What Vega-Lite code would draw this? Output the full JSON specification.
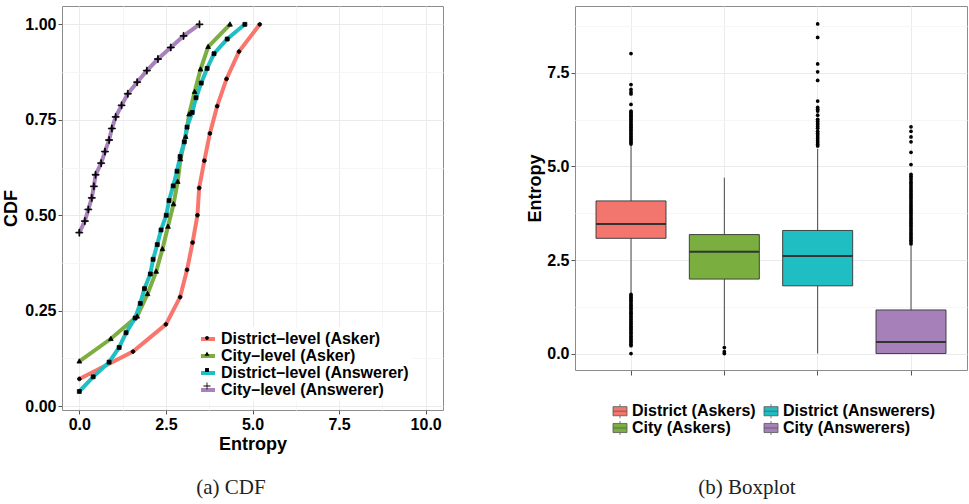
{
  "$schema": "https://vega.github.io/schema/vega-lite/v6.json",
  "padding": {"left": 2, "top": 5, "right": 0, "bottom": 0},
  "background": "white",
  "spacing": 82,
  "resolve": {"scale": {"color": "independent", "shape": "independent"}, "legend": {"color": "independent", "shape": "independent"}},
  "config": {
    "view": {"stroke": "#8c8c8c", "strokeWidth": 1},
    "axis": {
      "domain": false,
      "labelFont": "Liberation Sans",
      "labelFontWeight": "bold",
      "labelFontSize": 16,
      "labelColor": "#000000",
      "tickColor": "#555555",
      "tickSize": 4,
      "labelPadding": 2,
      "titleFont": "Liberation Sans",
      "titleFontWeight": "bold",
      "titleFontSize": 18,
      "titleColor": "#000000",
      "gridColor": "#EBEBEB",
      "gridWidth": 1
    },
    "legend": {
      "labelFont": "Liberation Sans",
      "labelFontWeight": "bold",
      "labelColor": "#000000",
      "labelFontSize": 16,
      "labelLimit": 400
    },
    "title": {
      "font": "Liberation Serif",
      "fontSize": 21,
      "fontWeight": "normal",
      "color": "#222222",
      "orient": "bottom",
      "anchor": "middle",
      "frame": "bounds"
    }
  },
  "datasets": {
    "cdf": [
      {"series": "District–level (Asker)", "entropy": 0.00, "cdf": 0.0714},
      {"series": "District–level (Asker)", "entropy": 1.55, "cdf": 0.1429},
      {"series": "District–level (Asker)", "entropy": 2.50, "cdf": 0.2143},
      {"series": "District–level (Asker)", "entropy": 2.91, "cdf": 0.2857},
      {"series": "District–level (Asker)", "entropy": 3.11, "cdf": 0.3571},
      {"series": "District–level (Asker)", "entropy": 3.27, "cdf": 0.4286},
      {"series": "District–level (Asker)", "entropy": 3.41, "cdf": 0.5000},
      {"series": "District–level (Asker)", "entropy": 3.46, "cdf": 0.5714},
      {"series": "District–level (Asker)", "entropy": 3.61, "cdf": 0.6429},
      {"series": "District–level (Asker)", "entropy": 3.77, "cdf": 0.7143},
      {"series": "District–level (Asker)", "entropy": 3.98, "cdf": 0.7857},
      {"series": "District–level (Asker)", "entropy": 4.25, "cdf": 0.8571},
      {"series": "District–level (Asker)", "entropy": 4.61, "cdf": 0.9286},
      {"series": "District–level (Asker)", "entropy": 5.21, "cdf": 1.0000},

      {"series": "City–level (Asker)", "entropy": 0.00, "cdf": 0.1176},
      {"series": "City–level (Asker)", "entropy": 0.91, "cdf": 0.1765},
      {"series": "City–level (Asker)", "entropy": 1.67, "cdf": 0.2353},
      {"series": "City–level (Asker)", "entropy": 1.97, "cdf": 0.2941},
      {"series": "City–level (Asker)", "entropy": 2.22, "cdf": 0.3529},
      {"series": "City–level (Asker)", "entropy": 2.40, "cdf": 0.4118},
      {"series": "City–level (Asker)", "entropy": 2.56, "cdf": 0.4706},
      {"series": "City–level (Asker)", "entropy": 2.72, "cdf": 0.5294},
      {"series": "City–level (Asker)", "entropy": 2.84, "cdf": 0.5882},
      {"series": "City–level (Asker)", "entropy": 2.92, "cdf": 0.6471},
      {"series": "City–level (Asker)", "entropy": 3.07, "cdf": 0.7059},
      {"series": "City–level (Asker)", "entropy": 3.17, "cdf": 0.7647},
      {"series": "City–level (Asker)", "entropy": 3.33, "cdf": 0.8235},
      {"series": "City–level (Asker)", "entropy": 3.50, "cdf": 0.8824},
      {"series": "City–level (Asker)", "entropy": 3.72, "cdf": 0.9412},
      {"series": "City–level (Asker)", "entropy": 4.35, "cdf": 1.0000},

      {"series": "District–level (Answerer)", "entropy": 0.00, "cdf": 0.0385},
      {"series": "District–level (Answerer)", "entropy": 0.40, "cdf": 0.0769},
      {"series": "District–level (Answerer)", "entropy": 0.86, "cdf": 0.1154},
      {"series": "District–level (Answerer)", "entropy": 1.15, "cdf": 0.1538},
      {"series": "District–level (Answerer)", "entropy": 1.35, "cdf": 0.1923},
      {"series": "District–level (Answerer)", "entropy": 1.61, "cdf": 0.2308},
      {"series": "District–level (Answerer)", "entropy": 1.76, "cdf": 0.2692},
      {"series": "District–level (Answerer)", "entropy": 1.88, "cdf": 0.3077},
      {"series": "District–level (Answerer)", "entropy": 2.05, "cdf": 0.3462},
      {"series": "District–level (Answerer)", "entropy": 2.13, "cdf": 0.3846},
      {"series": "District–level (Answerer)", "entropy": 2.25, "cdf": 0.4231},
      {"series": "District–level (Answerer)", "entropy": 2.36, "cdf": 0.4615},
      {"series": "District–level (Answerer)", "entropy": 2.51, "cdf": 0.5000},
      {"series": "District–level (Answerer)", "entropy": 2.59, "cdf": 0.5385},
      {"series": "District–level (Answerer)", "entropy": 2.71, "cdf": 0.5769},
      {"series": "District–level (Answerer)", "entropy": 2.82, "cdf": 0.6154},
      {"series": "District–level (Answerer)", "entropy": 2.91, "cdf": 0.6538},
      {"series": "District–level (Answerer)", "entropy": 3.03, "cdf": 0.6923},
      {"series": "District–level (Answerer)", "entropy": 3.11, "cdf": 0.7308},
      {"series": "District–level (Answerer)", "entropy": 3.26, "cdf": 0.7692},
      {"series": "District–level (Answerer)", "entropy": 3.37, "cdf": 0.8077},
      {"series": "District–level (Answerer)", "entropy": 3.52, "cdf": 0.8462},
      {"series": "District–level (Answerer)", "entropy": 3.69, "cdf": 0.8846},
      {"series": "District–level (Answerer)", "entropy": 3.89, "cdf": 0.9231},
      {"series": "District–level (Answerer)", "entropy": 4.27, "cdf": 0.9615},
      {"series": "District–level (Answerer)", "entropy": 4.78, "cdf": 1.0000},

      {"series": "City–level (Answerer)", "entropy": 0.00, "cdf": 0.4545},
      {"series": "City–level (Answerer)", "entropy": 0.16, "cdf": 0.4848},
      {"series": "City–level (Answerer)", "entropy": 0.26, "cdf": 0.5152},
      {"series": "City–level (Answerer)", "entropy": 0.36, "cdf": 0.5455},
      {"series": "City–level (Answerer)", "entropy": 0.42, "cdf": 0.5758},
      {"series": "City–level (Answerer)", "entropy": 0.47, "cdf": 0.6061},
      {"series": "City–level (Answerer)", "entropy": 0.63, "cdf": 0.6364},
      {"series": "City–level (Answerer)", "entropy": 0.74, "cdf": 0.6667},
      {"series": "City–level (Answerer)", "entropy": 0.86, "cdf": 0.6970},
      {"series": "City–level (Answerer)", "entropy": 0.94, "cdf": 0.7273},
      {"series": "City–level (Answerer)", "entropy": 1.05, "cdf": 0.7576},
      {"series": "City–level (Answerer)", "entropy": 1.22, "cdf": 0.7879},
      {"series": "City–level (Answerer)", "entropy": 1.40, "cdf": 0.8182},
      {"series": "City–level (Answerer)", "entropy": 1.67, "cdf": 0.8485},
      {"series": "City–level (Answerer)", "entropy": 1.95, "cdf": 0.8788},
      {"series": "City–level (Answerer)", "entropy": 2.27, "cdf": 0.9091},
      {"series": "City–level (Answerer)", "entropy": 2.64, "cdf": 0.9394},
      {"series": "City–level (Answerer)", "entropy": 3.01, "cdf": 0.9697},
      {"series": "City–level (Answerer)", "entropy": 3.47, "cdf": 1.0000}
    ],
    "stats": [
      {"group": "District (Askers)", "lo": 1.60, "q1": 3.08, "median": 3.46, "q3": 4.08, "hi": 5.55},
      {"group": "City (Askers)", "lo": 0.21, "q1": 1.99, "median": 2.72, "q3": 3.18, "hi": 4.70},
      {"group": "District (Answerers)", "lo": 0.00, "q1": 1.81, "median": 2.61, "q3": 3.29, "hi": 5.47},
      {"group": "City (Answerers)", "lo": 0.00, "q1": 0.00, "median": 0.31, "q3": 1.165, "hi": 2.88}
    ],
    "outliers": [
      {"group": "District (Askers)", "entropy": 8.02},
      {"group": "District (Askers)", "entropy": 7.19},
      {"group": "District (Askers)", "entropy": 7.06},
      {"group": "District (Askers)", "entropy": 6.99},
      {"group": "District (Askers)", "entropy": 6.94},
      {"group": "District (Askers)", "entropy": 6.66},
      {"group": "District (Askers)", "entropy": 6.48},
      {"group": "District (Askers)", "entropy": 6.45},
      {"group": "District (Askers)", "entropy": 6.41},
      {"group": "District (Askers)", "entropy": 6.37},
      {"group": "District (Askers)", "entropy": 6.33},
      {"group": "District (Askers)", "entropy": 6.30},
      {"group": "District (Askers)", "entropy": 6.26},
      {"group": "District (Askers)", "entropy": 6.22},
      {"group": "District (Askers)", "entropy": 6.18},
      {"group": "District (Askers)", "entropy": 6.13},
      {"group": "District (Askers)", "entropy": 6.09},
      {"group": "District (Askers)", "entropy": 6.05},
      {"group": "District (Askers)", "entropy": 6.01},
      {"group": "District (Askers)", "entropy": 5.97},
      {"group": "District (Askers)", "entropy": 5.92},
      {"group": "District (Askers)", "entropy": 5.88},
      {"group": "District (Askers)", "entropy": 5.84},
      {"group": "District (Askers)", "entropy": 5.80},
      {"group": "District (Askers)", "entropy": 5.76},
      {"group": "District (Askers)", "entropy": 5.72},
      {"group": "District (Askers)", "entropy": 5.68},
      {"group": "District (Askers)", "entropy": 5.64},
      {"group": "District (Askers)", "entropy": 5.60},
      {"group": "District (Askers)", "entropy": 1.58},
      {"group": "District (Askers)", "entropy": 1.54},
      {"group": "District (Askers)", "entropy": 1.50},
      {"group": "District (Askers)", "entropy": 1.46},
      {"group": "District (Askers)", "entropy": 1.42},
      {"group": "District (Askers)", "entropy": 1.38},
      {"group": "District (Askers)", "entropy": 1.33},
      {"group": "District (Askers)", "entropy": 1.29},
      {"group": "District (Askers)", "entropy": 1.25},
      {"group": "District (Askers)", "entropy": 1.21},
      {"group": "District (Askers)", "entropy": 1.17},
      {"group": "District (Askers)", "entropy": 1.12},
      {"group": "District (Askers)", "entropy": 1.08},
      {"group": "District (Askers)", "entropy": 1.04},
      {"group": "District (Askers)", "entropy": 0.99},
      {"group": "District (Askers)", "entropy": 0.95},
      {"group": "District (Askers)", "entropy": 0.91},
      {"group": "District (Askers)", "entropy": 0.86},
      {"group": "District (Askers)", "entropy": 0.82},
      {"group": "District (Askers)", "entropy": 0.78},
      {"group": "District (Askers)", "entropy": 0.73},
      {"group": "District (Askers)", "entropy": 0.69},
      {"group": "District (Askers)", "entropy": 0.65},
      {"group": "District (Askers)", "entropy": 0.60},
      {"group": "District (Askers)", "entropy": 0.56},
      {"group": "District (Askers)", "entropy": 0.52},
      {"group": "District (Askers)", "entropy": 0.47},
      {"group": "District (Askers)", "entropy": 0.43},
      {"group": "District (Askers)", "entropy": 0.38},
      {"group": "District (Askers)", "entropy": 0.34},
      {"group": "District (Askers)", "entropy": 0.30},
      {"group": "District (Askers)", "entropy": 0.25},
      {"group": "District (Askers)", "entropy": 0.21},
      {"group": "District (Askers)", "entropy": 0.00},
      {"group": "City (Askers)", "entropy": 0.16},
      {"group": "City (Askers)", "entropy": 0.05},
      {"group": "City (Askers)", "entropy": 0.00},
      {"group": "District (Answerers)", "entropy": 8.81},
      {"group": "District (Answerers)", "entropy": 8.45},
      {"group": "District (Answerers)", "entropy": 7.74},
      {"group": "District (Answerers)", "entropy": 7.53},
      {"group": "District (Answerers)", "entropy": 7.30},
      {"group": "District (Answerers)", "entropy": 6.75},
      {"group": "District (Answerers)", "entropy": 6.58},
      {"group": "District (Answerers)", "entropy": 6.53},
      {"group": "District (Answerers)", "entropy": 6.48},
      {"group": "District (Answerers)", "entropy": 6.37},
      {"group": "District (Answerers)", "entropy": 6.26},
      {"group": "District (Answerers)", "entropy": 6.21},
      {"group": "District (Answerers)", "entropy": 6.16},
      {"group": "District (Answerers)", "entropy": 6.12},
      {"group": "District (Answerers)", "entropy": 6.07},
      {"group": "District (Answerers)", "entropy": 6.02},
      {"group": "District (Answerers)", "entropy": 5.94},
      {"group": "District (Answerers)", "entropy": 5.89},
      {"group": "District (Answerers)", "entropy": 5.84},
      {"group": "District (Answerers)", "entropy": 5.79},
      {"group": "District (Answerers)", "entropy": 5.74},
      {"group": "District (Answerers)", "entropy": 5.69},
      {"group": "District (Answerers)", "entropy": 5.64},
      {"group": "District (Answerers)", "entropy": 5.59},
      {"group": "District (Answerers)", "entropy": 5.55},
      {"group": "City (Answerers)", "entropy": 6.06},
      {"group": "City (Answerers)", "entropy": 5.94},
      {"group": "City (Answerers)", "entropy": 5.79},
      {"group": "City (Answerers)", "entropy": 5.66},
      {"group": "City (Answerers)", "entropy": 5.38},
      {"group": "City (Answerers)", "entropy": 5.05},
      {"group": "City (Answerers)", "entropy": 4.79},
      {"group": "City (Answerers)", "entropy": 4.74},
      {"group": "City (Answerers)", "entropy": 4.69},
      {"group": "City (Answerers)", "entropy": 4.64},
      {"group": "City (Answerers)", "entropy": 4.58},
      {"group": "City (Answerers)", "entropy": 4.53},
      {"group": "City (Answerers)", "entropy": 4.48},
      {"group": "City (Answerers)", "entropy": 4.43},
      {"group": "City (Answerers)", "entropy": 4.38},
      {"group": "City (Answerers)", "entropy": 4.33},
      {"group": "City (Answerers)", "entropy": 4.28},
      {"group": "City (Answerers)", "entropy": 4.23},
      {"group": "City (Answerers)", "entropy": 4.18},
      {"group": "City (Answerers)", "entropy": 4.13},
      {"group": "City (Answerers)", "entropy": 4.08},
      {"group": "City (Answerers)", "entropy": 4.03},
      {"group": "City (Answerers)", "entropy": 3.98},
      {"group": "City (Answerers)", "entropy": 3.93},
      {"group": "City (Answerers)", "entropy": 3.88},
      {"group": "City (Answerers)", "entropy": 3.83},
      {"group": "City (Answerers)", "entropy": 3.78},
      {"group": "City (Answerers)", "entropy": 3.73},
      {"group": "City (Answerers)", "entropy": 3.68},
      {"group": "City (Answerers)", "entropy": 3.63},
      {"group": "City (Answerers)", "entropy": 3.58},
      {"group": "City (Answerers)", "entropy": 3.53},
      {"group": "City (Answerers)", "entropy": 3.48},
      {"group": "City (Answerers)", "entropy": 3.43},
      {"group": "City (Answerers)", "entropy": 3.38},
      {"group": "City (Answerers)", "entropy": 3.33},
      {"group": "City (Answerers)", "entropy": 3.28},
      {"group": "City (Answerers)", "entropy": 3.23},
      {"group": "City (Answerers)", "entropy": 3.18},
      {"group": "City (Answerers)", "entropy": 3.13},
      {"group": "City (Answerers)", "entropy": 3.08},
      {"group": "City (Answerers)", "entropy": 3.03},
      {"group": "City (Answerers)", "entropy": 2.98},
      {"group": "City (Answerers)", "entropy": 2.93}
    ]
  },
  "hconcat": [
    {
      "width": 381,
      "height": 404,
      "title": {"text": "(a) CDF", "offset": 24, "dx": 8},
      "data": {"name": "cdf"},
      "resolve": {"axis": {"x": "independent", "y": "independent"}},
      "layer": [
        {
          "mark": {"type": "line", "strokeWidth": 4},
          "encoding": {
            "x": {
              "field": "entropy", "type": "quantitative",
              "scale": {"domain": [-0.5, 10.5], "nice": false, "zero": false},
              "axis": {"orient": "bottom", "values": [1.25, 3.75, 6.25, 8.75], "grid": true, "gridColor": "#F6F6F6", "labels": false, "ticks": false, "title": null}
            },
            "y": {
              "field": "cdf", "type": "quantitative",
              "scale": {"domain": [-0.01, 1.048], "nice": false, "zero": false},
              "axis": {"orient": "left", "values": [0.125, 0.375, 0.625, 0.875], "grid": true, "gridColor": "#F6F6F6", "labels": false, "ticks": false, "title": null}
            },
            "color": {
              "field": "series", "type": "nominal",
              "scale": {
                "domain": ["District–level (Asker)", "City–level (Asker)", "District–level (Answerer)", "City–level (Answerer)"],
                "range": ["#F8766D", "#7CAE42", "#1FBFC4", "#A882BB"]
              },
              "legend": {
                "orient": "none", "legendX": 134, "legendY": 321,
                "title": null, "symbolType": "stroke", "symbolSize": 196,
                "symbolStrokeWidth": 4, "rowPadding": 0, "padding": 3,
                "fillColor": "white"
              }
            }
          }
        },
        {
          "mark": {"type": "point", "filled": true, "fill": "black", "stroke": "black", "strokeWidth": 0.8, "size": 196, "opacity": 1},
          "encoding": {
            "x": {
              "field": "entropy", "type": "quantitative",
              "axis": {"orient": "bottom", "values": [0, 2.5, 5, 7.5, 10], "format": ".1f", "grid": true, "title": "Entropy", "titlePadding": 3}
            },
            "y": {
              "field": "cdf", "type": "quantitative",
              "axis": {"orient": "left", "values": [0, 0.25, 0.5, 0.75, 1], "format": ".2f", "grid": true, "title": "CDF", "titlePadding": 4}
            },
            "shape": {
              "field": "series", "type": "nominal",
              "sort": ["District–level (Asker)", "City–level (Asker)", "District–level (Answerer)", "City–level (Answerer)"],
              "scale": {
                "range": [
                  "M-0.27,0A0.27,0.27 0 1,0 0.27,0A0.27,0.27 0 1,0 -0.27,0Z",
                  "M0,-0.36L0.34,0.26L-0.34,0.26Z",
                  "M-0.28,-0.28H0.28V0.28H-0.28Z",
                  "M-0.5,-0.06H-0.06V-0.5H0.06V-0.06H0.5V0.06H0.06V0.5H-0.06V0.06H-0.5Z"
                ]
              },
              "legend": {
                "orient": "none", "legendX": 134, "legendY": 321,
                "title": null, "symbolSize": 196, "rowPadding": 0, "padding": 3,
                "symbolFillColor": "black", "symbolStrokeColor": "black", "symbolStrokeWidth": 1.1,
                "labelExpr": "''"
              }
            }
          }
        }
      ]
    },
    {
      "width": 392,
      "height": 364,
      "title": {"text": "(b) Boxplot", "offset": 40},
      "resolve": {"axis": {"y": "independent"}},
      "encoding": {
        "x": {
          "field": "group", "type": "nominal",
          "scale": {
            "domain": ["District (Askers)", "City (Askers)", "District (Answerers)", "City (Answerers)"],
            "paddingInner": 0, "paddingOuter": 0.1
          },
          "axis": {"labels": false, "title": null, "grid": true, "bandPosition": 0.5, "tickSize": 5}
        }
      },
      "layer": [
        {
          "data": {"name": "stats"},
          "mark": {"type": "rule", "color": "#333333", "strokeWidth": 0.9},
          "encoding": {
            "y": {
              "field": "lo", "type": "quantitative",
              "scale": {"domain": [-0.44, 9.29], "nice": false, "zero": false},
              "axis": {"orient": "left", "values": [1.25, 3.75, 6.25, 8.75], "grid": true, "gridColor": "#F6F6F6", "labels": false, "ticks": false, "title": null}
            },
            "y2": {"field": "q1"}
          }
        },
        {
          "data": {"name": "stats"},
          "mark": {"type": "rule", "color": "#333333", "strokeWidth": 0.9},
          "encoding": {
            "y": {"field": "q3", "type": "quantitative", "axis": null},
            "y2": {"field": "hi"}
          }
        },
        {
          "data": {"name": "stats"},
          "mark": {"type": "bar", "width": {"band": 0.75}, "stroke": "#333333", "strokeWidth": 0.9, "opacity": 1},
          "encoding": {
            "y": {
              "field": "q1", "type": "quantitative",
              "axis": {"orient": "left", "values": [0, 2.5, 5, 7.5], "format": ".1f", "grid": true, "title": "Entropy", "titlePadding": 2}
            },
            "y2": {"field": "q3"},
            "color": {
              "field": "group", "type": "nominal",
              "scale": {
                "domain": ["District (Askers)", "City (Askers)", "District (Answerers)", "City (Answerers)"],
                "range": ["#F3766E", "#7AAF3F", "#1FBEC3", "#A680B8"]
              },
              "legend": {
                "orient": "none", "legendX": 37, "legendY": 397,
                "title": null, "columns": 2, "columnPadding": 6, "rowPadding": -1,
                "symbolType": "M-1,-0.65H1V0.65H-1Z M-1,0H1 M0,-1V-0.65 M0,0.65V1",
                "symbolSize": 196, "symbolStrokeColor": "#555555", "symbolStrokeWidth": 0.8
              }
            }
          }
        },
        {
          "data": {"name": "stats"},
          "mark": {"type": "tick", "color": "#333333", "thickness": 2, "size": 70, "opacity": 1},
          "encoding": {
            "y": {"field": "median", "type": "quantitative", "axis": null}
          }
        },
        {
          "data": {"name": "outliers"},
          "mark": {"type": "circle", "color": "black", "size": 14, "opacity": 1},
          "encoding": {
            "y": {"field": "entropy", "type": "quantitative", "axis": null}
          }
        }
      ]
    }
  ]
}
